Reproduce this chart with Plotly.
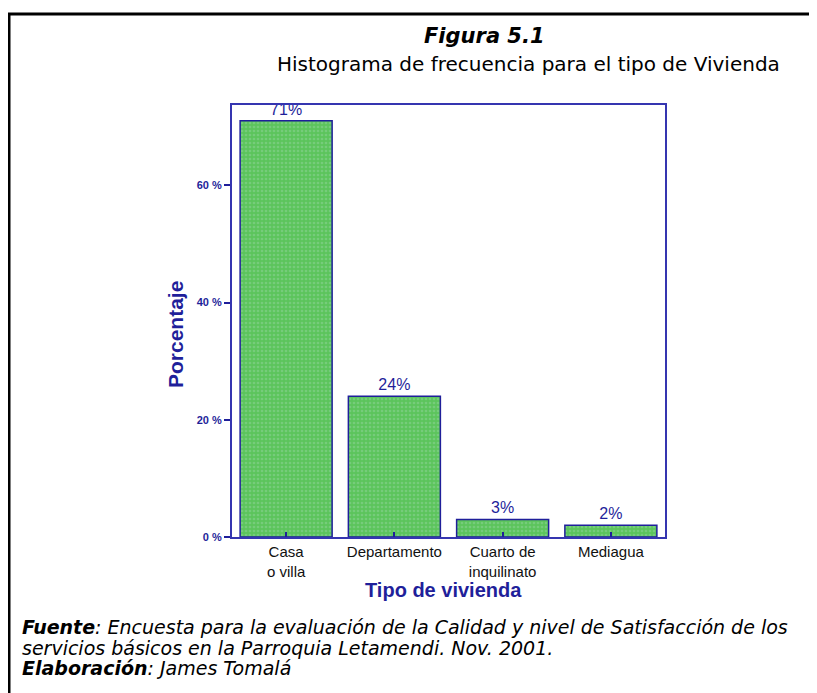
import plotly.graph_objects as go

# ---- data ----
categories = ["Casa<br>o villa", "Departamento", "Cuarto de<br>inquilinato", "Mediagua"]
percentages = [71, 24, 3, 2]
y_tick_vals = [0, 20, 40, 60]
y_tick_text = ["0 %", "20 %", "40 %", "60 %"]

NAVY = "#1f1f9a"
FRAME = "#3535b0"

# page body has an 8px margin: work in reference pixels, shift by OFF
OFF = 8
W, H = 817 - OFF, 693 - OFF
L, R, T, B = 232 - OFF, 665 - OFF, 105 - OFF, 537 - OFF


def px(x):
    return (x - OFF - L) / (R - L)


def py(y):
    return (B - (y - OFF)) / (B - T)


fig = go.Figure()
fig.add_trace(go.Bar(
    x=categories,
    y=percentages,
    marker=dict(
        color="#5cc45c",
        line=dict(color=NAVY, width=1.5),
        pattern=dict(shape=".", size=4, solidity=0.35, fgcolor="#8fd49a"),
    ),
    texttemplate="%{y:.0f}%",
    textposition="outside",
    textfont=dict(family="Liberation Sans, Arial", size=16, color=NAVY),
    cliponaxis=False,
    width=0.85,
))

fig.update_layout(
    width=W, height=H,
    margin=dict(l=L, r=W - R, t=T, b=H - B),
    paper_bgcolor="white",
    plot_bgcolor="white",
    showlegend=False,
    xaxis=dict(
        type="category",
        range=[-0.5, 3.5],
        showline=True, linecolor=FRAME, linewidth=2, mirror=True,
        ticks="inside", ticklen=5, tickwidth=2, tickcolor=NAVY,
        tickfont=dict(family="Liberation Sans, Arial", size=15, color="#111111"),
        showgrid=False, zeroline=False,
    ),
    yaxis=dict(
        range=[0, 73.7],
        tickvals=y_tick_vals, ticktext=["<b>%s</b>" % t for t in y_tick_text],
        showline=True, linecolor=FRAME, linewidth=2, mirror=True,
        ticks="outside", ticklen=6, tickwidth=2, tickcolor=NAVY,
        tickfont=dict(family="Liberation Sans, Arial", size=11, color=NAVY),
        showgrid=False, zeroline=False,
    ),
    font=dict(family="DejaVu Sans"),
)

annotations = [
    dict(text="<b><i>Figura 5.1</i></b>", x=px(484), y=py(36),
         font=dict(family="DejaVu Sans", size=21, color="black")),
    dict(text="Histograma de frecuencia para el tipo de Vivienda", x=px(528), y=py(64),
         font=dict(family="DejaVu Sans", size=20, color="black")),
    dict(text="<b>Tipo de vivienda</b>", x=px(443), y=py(590),
         font=dict(family="Liberation Sans, Arial", size=20, color=NAVY)),
    dict(text="<b>Porcentaje</b>", x=px(175), y=py(335), textangle=-90,
         font=dict(family="Liberation Sans, Arial", size=21, color=NAVY)),
    dict(text="<b><i>Fuente</i></b><i>: Encuesta para la evaluación de la Calidad y nivel de Satisfacción de los</i>",
         x=px(20), y=py(627), xanchor="left",
         font=dict(family="DejaVu Sans", size=19, color="black")),
    dict(text="<i>servicios básicos en la Parroquia Letamendi. Nov. 2001.</i>",
         x=px(20), y=py(648), xanchor="left",
         font=dict(family="DejaVu Sans", size=19, color="black")),
    dict(text="<b><i>Elaboración</i></b><i>: James Tomalá</i>",
         x=px(20), y=py(668), xanchor="left",
         font=dict(family="DejaVu Sans", size=19, color="black")),
]
for a in annotations:
    a.setdefault("xanchor", "center")
    a.update(xref="paper", yref="paper", yanchor="middle", showarrow=False)
fig.update_layout(annotations=annotations)

fig.update_layout(shapes=[
    dict(type="line", xref="paper", yref="paper",
         x0=px(8), x1=px(830), y0=py(14), y1=py(14),
         line=dict(color="black", width=3)),
    dict(type="line", xref="paper", yref="paper",
         x0=px(9), x1=px(9), y0=py(13), y1=py(700),
         line=dict(color="black", width=3)),
])

fig.write_html("out.html")
